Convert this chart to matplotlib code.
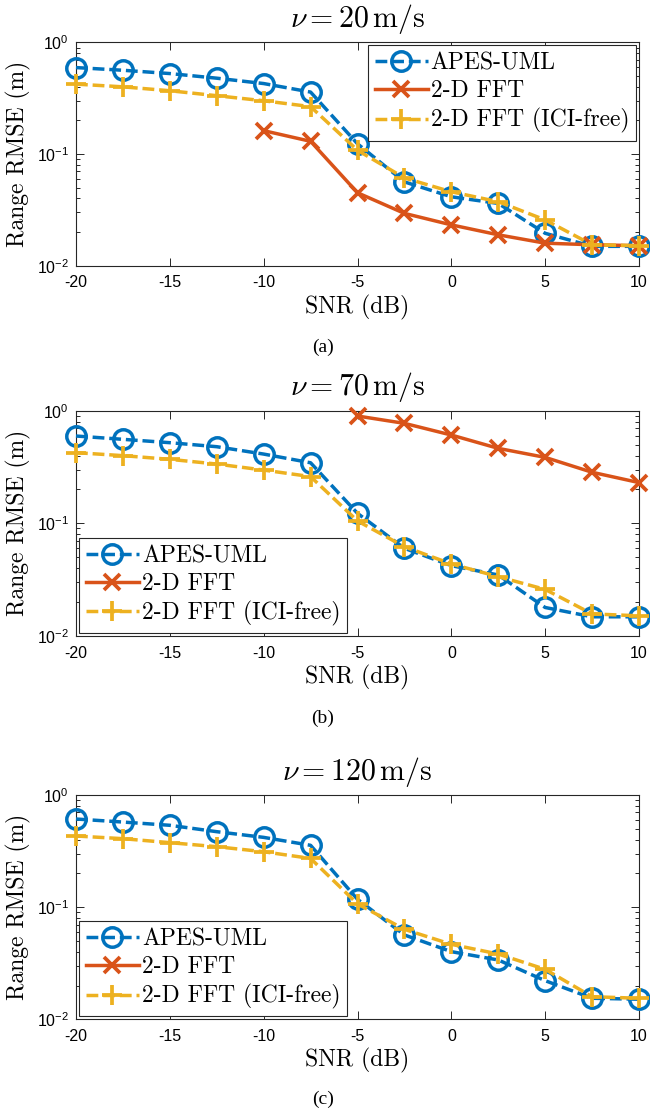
import matplotlib
matplotlib.use("Agg")
import matplotlib.pyplot as plt
from matplotlib.ticker import LogLocator, NullFormatter

# SNR grid shared by all three panels (dB)
snr = [-20, -17.5, -15, -12.5, -10, -7.5, -5, -2.5, 0, 2.5, 5, 7.5, 10]

# v = 20 m/s
apes_20 = [0.595, 0.563, 0.526, 0.478, 0.428, 0.359, 0.1236, 0.0563, 0.0414, 0.0361, 0.0195, 0.0149, 0.0149]
fft_snr_20 = [-10, -7.5, -5, -2.5, 0, 2.5, 5, 7.5, 10]
fft_20 = [0.162, 0.130, 0.045, 0.0294, 0.0232, 0.0189, 0.0159, 0.0154, 0.0151]
ici_free_20 = [0.423, 0.400, 0.369, 0.333, 0.300, 0.266, 0.108, 0.0611, 0.0459, 0.0374, 0.0257, 0.0154, 0.0151]

# v = 70 m/s
apes_70 = [0.596, 0.557, 0.520, 0.479, 0.412, 0.345, 0.1227, 0.0600, 0.0421, 0.0348, 0.0179, 0.0148, 0.0148]
fft_snr_70 = [-5, -2.5, 0, 2.5, 5, 7.5, 10]
fft_70 = [0.897, 0.772, 0.608, 0.463, 0.385, 0.284, 0.230]
ici_free_70 = [0.424, 0.399, 0.370, 0.336, 0.297, 0.260, 0.105, 0.0620, 0.0436, 0.0336, 0.0259, 0.0157, 0.0151]

# v = 120 m/s (2-D FFT stays off the chart)
apes_120 = [0.611, 0.574, 0.537, 0.471, 0.419, 0.356, 0.1175, 0.0565, 0.0401, 0.0338, 0.0221, 0.0154, 0.0151]
fft_snr_120 = []
fft_120 = []
ici_free_120 = [0.431, 0.408, 0.376, 0.346, 0.312, 0.272, 0.107, 0.0634, 0.0466, 0.0382, 0.0279, 0.0159, 0.0154]

speeds = [20, 70, 120]
panel_tags = ["(a)", "(b)", "(c)"]
legend_names = ["APES-UML", "2-D FFT", "2-D FFT (ICI-free)"]
xtick_vals = [-20, -15, -10, -5, 0, 5, 10]
xtick_text = ["-20", "-15", "-10", "-5", "0", "5", "10"]

BLUE = "#0072BD"
ORANGE = "#D95319"
YELLOW = "#EDB120"

plt.rcParams["mathtext.fontset"] = "custom"
plt.rcParams["mathtext.rm"] = "Liberation Sans"
plt.rcParams["mathtext.it"] = "Liberation Sans:italic"
plt.rcParams["axes.linewidth"] = 0.8
plt.rcParams["axes.edgecolor"] = "#262626"

CM = ["cmr10", "DejaVu Serif"]

fig = plt.figure(figsize=(6.5, 11.13), dpi=100)

# [left, bottom, width, height] in figure fractions
boxes = [
    [0.1169, 0.7613, 0.8662, 0.2006],
    [0.1169, 0.4286, 0.8662, 0.2024],
    [0.1169, 0.0842, 0.8662, 0.2015],
]
legend_spots = ["upper right", "lower left", "lower left"]
tag_y = [0.688, 0.355, 0.012]

series = [
    (apes_20, fft_snr_20, fft_20, ici_free_20),
    (apes_70, fft_snr_70, fft_70, ici_free_70),
    (apes_120, fft_snr_120, fft_120, ici_free_120),
]

for i, (apes, fx, fy, ici) in enumerate(series):
    ax = fig.add_axes(boxes[i])

    l1, = ax.plot(snr, apes, color=BLUE, lw=2.5, ls="--", dashes=(3.4, 1.4),
                  marker="o", ms=14, mfc="none", mew=2.5, clip_on=False, zorder=3)
    l2, = ax.plot(fx, fy, color=ORANGE, lw=2.5, ls="-",
                  marker="x", ms=11.5, mew=2.7, clip_on=False, zorder=4)
    l3, = ax.plot(snr, ici, color=YELLOW, lw=2.5, ls="--", dashes=(3.4, 1.4),
                  marker="+", ms=15, mew=2.7, clip_on=False, zorder=5)

    ax.set_yscale("log")
    ax.set_xlim(-20, 10)
    ax.set_ylim(1e-2, 1)
    ax.set_xticks(xtick_vals)
    ax.set_xticklabels(xtick_text, family="Liberation Sans", fontsize=11.5)
    ax.set_yticks([1e-2, 1e-1, 1])
    ax.set_yticklabels([r"$10^{-2}$", r"$10^{-1}$", r"$10^{0}$"],
                       family="Liberation Sans", fontsize=11.5)
    ax.yaxis.set_minor_locator(LogLocator(base=10, subs=range(2, 10)))
    ax.yaxis.set_minor_formatter(NullFormatter())
    ax.tick_params(which="both", direction="in", top=True, right=True,
                   width=0.7, color="#262626")
    ax.tick_params(which="major", length=5.5)
    ax.tick_params(which="minor", length=3)
    ax.tick_params(axis="x", pad=7)
    ax.tick_params(axis="y", pad=5)

    ax.set_xlabel("SNR (dB)", family=CM, fontsize=17, labelpad=3)
    ax.set_ylabel("Range RMSE (m)", family=CM, fontsize=17, labelpad=4)
    title = ax.set_title(r"$\nu = %d\,\mathrm{m/s}$" % speeds[i], fontsize=21.5, pad=11)
    title.set_math_fontfamily("cm")

    leg = ax.legend([l1, l2, l3], legend_names, loc=legend_spots[i],
                    prop={"family": CM, "size": 17}, frameon=True, fancybox=False,
                    framealpha=1, edgecolor="#262626", handlelength=2.25,
                    handletextpad=0.12, borderpad=0.3, labelspacing=0.25,
                    borderaxespad=0.12)
    leg.get_frame().set_linewidth(0.8)

    fig.text(0.497, tag_y[i], panel_tags[i], ha="center", va="center",
             family="Liberation Serif", fontsize=14)

fig.savefig("out.png", dpi=100)
